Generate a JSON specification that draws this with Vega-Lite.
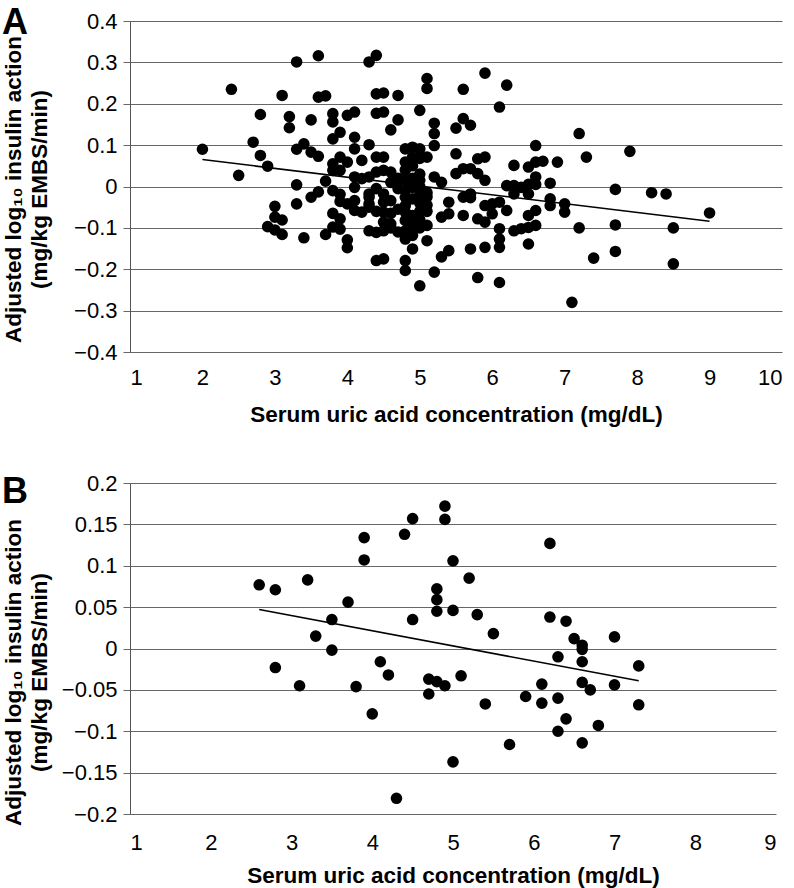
{
  "$schema": "https://vega.github.io/schema/vega-lite/v6.json",
  "autosize": {"type": "none"},
  "padding": {"left": 130, "top": 21, "right": 664, "bottom": 867},
  "background": "white",
  "bounds": "flush",
  "spacing": 131,
  "config": {
    "view": {"stroke": null},
    "font": "Liberation Sans",
    "axis": {"labelFont": "Liberation Sans", "titleFont": "Liberation Sans", "labelColor": "#000", "titleColor": "#000", "labelFontSize": 22, "titleFontSize": 22.5, "titleFontWeight": "bold"},
    "title": {"font": "Liberation Sans", "color": "#000"}
  },
  "datasets": {
    "a": [
      {"x":2.0,"y":0.090},{"x":2.4,"y":0.235},{"x":2.5,"y":0.027},{"x":2.7,"y":0.107},{"x":2.8,"y":0.174},{"x":2.8,"y":0.075},{"x":2.9,"y":0.049},
      {"x":3.1,"y":0.220},{"x":3.3,"y":0.301},{"x":3.6,"y":0.316},{"x":3.2,"y":0.169},{"x":3.2,"y":0.142},{"x":3.5,"y":0.161},{"x":3.6,"y":0.216},{"x":3.7,"y":0.219},
      {"x":3.3,"y":0.090},{"x":3.4,"y":0.103},{"x":3.5,"y":0.083},{"x":3.6,"y":0.073},
      {"x":3.3,"y":0.004},{"x":3.3,"y":-0.042},{"x":3.5,"y":-0.026},{"x":3.6,"y":-0.013},{"x":3.7,"y":0.013},
      {"x":3.0,"y":-0.048},{"x":3.0,"y":-0.074},{"x":3.1,"y":-0.081},{"x":2.9,"y":-0.097},{"x":3.0,"y":-0.105},{"x":3.1,"y":-0.116},{"x":3.4,"y":-0.124},{"x":3.7,"y":-0.116},
      {"x":3.8,"y":-0.065},{"x":3.9,"y":-0.078},{"x":3.8,"y":-0.098},{"x":3.9,"y":-0.103},{"x":4.0,"y":-0.129},{"x":4.0,"y":-0.148},
      {"x":3.8,"y":-0.010},{"x":3.9,"y":-0.019},{"x":3.9,"y":-0.036},{"x":4.0,"y":-0.042},{"x":4.1,"y":-0.034},{"x":4.1,"y":-0.058},{"x":4.2,"y":-0.062},{"x":4.3,"y":-0.050},{"x":4.3,"y":-0.026},
      {"x":3.8,"y":0.176},{"x":3.8,"y":0.156},{"x":3.9,"y":0.131},{"x":4.0,"y":0.172},{"x":4.1,"y":0.180},{"x":3.8,"y":0.115},{"x":4.1,"y":0.119},{"x":4.1,"y":0.091},{"x":4.3,"y":0.101},{"x":4.2,"y":0.063},
      {"x":3.8,"y":0.055},{"x":3.9,"y":0.071},{"x":4.0,"y":0.059},{"x":3.8,"y":0.039},{"x":3.9,"y":0.039},
      {"x":4.1,"y":0.023},{"x":4.1,"y":-0.002},{"x":4.2,"y":0.019},{"x":4.3,"y":0.023},{"x":4.4,"y":0.035},
      {"x":4.3,"y":-0.018},{"x":4.3,"y":-0.042},{"x":4.3,"y":-0.107},{"x":4.4,"y":-0.111},{"x":4.4,"y":-0.179},
      {"x":4.3,"y":0.301},{"x":4.4,"y":0.317},{"x":4.4,"y":0.224},{"x":4.4,"y":0.177},{"x":4.4,"y":0.071},{"x":4.5,"y":-0.175},
      {"x":4.5,"y":0.226},{"x":4.7,"y":0.220},{"x":4.5,"y":0.180},{"x":4.7,"y":0.161},{"x":4.6,"y":0.137},{"x":5.1,"y":0.261},{"x":5.1,"y":0.237},{"x":5.0,"y":0.184},
      {"x":5.6,"y":0.235},{"x":5.9,"y":0.274},{"x":6.2,"y":0.245},{"x":6.1,"y":0.192},{"x":5.2,"y":0.153},{"x":5.2,"y":0.128},{"x":5.2,"y":0.099},{"x":5.5,"y":0.141},{"x":5.6,"y":0.164},{"x":5.7,"y":0.148},
      {"x":4.8,"y":0.091},{"x":4.9,"y":0.095},{"x":5.0,"y":0.091},{"x":4.8,"y":0.059},{"x":4.9,"y":0.071},{"x":5.0,"y":0.068},{"x":5.1,"y":0.071},{"x":4.8,"y":0.040},{"x":5.0,"y":0.030},{"x":4.9,"y":0.050},
      {"x":4.5,"y":0.071},{"x":4.5,"y":0.039},{"x":4.6,"y":0.035},
      {"x":5.5,"y":0.079},{"x":5.8,"y":0.067},{"x":5.9,"y":0.071},{"x":5.5,"y":0.031},{"x":5.6,"y":0.043},{"x":5.7,"y":0.043},{"x":5.8,"y":0.031},{"x":5.9,"y":0.015},
      {"x":5.2,"y":0.023},{"x":5.3,"y":0.010},
      {"x":6.6,"y":0.099},{"x":6.3,"y":0.051},{"x":6.5,"y":0.047},{"x":6.6,"y":0.059},{"x":6.7,"y":0.061},{"x":6.9,"y":0.059},
      {"x":6.2,"y":0.002},{"x":6.3,"y":0.002},{"x":6.6,"y":0.023},{"x":6.6,"y":0.005},{"x":6.8,"y":0.008},{"x":6.5,"y":-0.018},{"x":6.8,"y":-0.030},{"x":6.8,"y":-0.046},{"x":7.0,"y":-0.042},{"x":7.0,"y":-0.062},{"x":6.3,"y":-0.018},
      {"x":6.1,"y":-0.038},{"x":6.2,"y":-0.058},{"x":6.5,"y":-0.070},{"x":6.6,"y":-0.058},
      {"x":6.3,"y":-0.107},{"x":6.4,"y":-0.102},{"x":6.5,"y":-0.099},{"x":6.6,"y":-0.094},{"x":6.5,"y":-0.139},
      {"x":6.1,"y":-0.102},{"x":6.1,"y":-0.127},{"x":6.1,"y":-0.147},{"x":5.9,"y":-0.147},{"x":5.7,"y":-0.151},
      {"x":5.9,"y":-0.046},{"x":5.8,"y":-0.078},{"x":5.9,"y":-0.086},{"x":6.0,"y":-0.066},
      {"x":5.6,"y":-0.026},{"x":5.7,"y":-0.018},{"x":5.6,"y":-0.070},{"x":5.4,"y":-0.038},{"x":5.4,"y":-0.066},{"x":5.3,"y":-0.074},
      {"x":5.4,"y":-0.155},{"x":5.3,"y":-0.170},{"x":5.2,"y":-0.207},{"x":5.0,"y":-0.240},{"x":5.8,"y":-0.220},{"x":6.1,"y":-0.232},{"x":7.1,"y":-0.280},
      {"x":4.9,"y":-0.151},{"x":4.8,"y":-0.179},{"x":4.8,"y":-0.203},{"x":5.1,"y":-0.094},{"x":5.1,"y":-0.131},
      {"x":4.5,"y":-0.018},{"x":4.5,"y":-0.038},{"x":4.5,"y":-0.062},{"x":4.5,"y":-0.086},{"x":4.5,"y":-0.107},
      {"x":4.6,"y":-0.034},{"x":4.6,"y":-0.090},{"x":4.6,"y":-0.100},{"x":4.7,"y":-0.005},{"x":4.7,"y":-0.055},{"x":4.7,"y":-0.110},
      {"x":4.8,"y":0.015},{"x":4.8,"y":-0.010},{"x":4.8,"y":-0.026},{"x":4.8,"y":-0.046},{"x":4.8,"y":-0.062},{"x":4.8,"y":-0.082},{"x":4.8,"y":-0.107},{"x":4.8,"y":-0.127},
      {"x":4.9,"y":-0.002},{"x":4.9,"y":-0.030},{"x":4.9,"y":-0.070},{"x":4.9,"y":-0.095},{"x":4.9,"y":-0.118},
      {"x":5.0,"y":0.000},{"x":5.0,"y":-0.020},{"x":5.0,"y":-0.040},{"x":5.0,"y":-0.060},{"x":5.0,"y":-0.080},{"x":5.0,"y":-0.100},
      {"x":5.1,"y":-0.015},{"x":5.1,"y":-0.025},{"x":5.1,"y":-0.045},{"x":5.1,"y":-0.060},
      {"x":4.6,"y":0.010},{"x":4.7,"y":0.020},{"x":4.9,"y":0.020},{"x":5.0,"y":0.015},{"x":4.4,"y":-0.005},{"x":4.4,"y":-0.060},{"x":4.6,"y":-0.065},
      {"x":6.4,"y":-0.002},{"x":6.5,"y":0.005},
      {"x":7.2,"y":0.128},{"x":7.3,"y":0.071},{"x":7.9,"y":0.085},{"x":7.7,"y":-0.007},{"x":8.2,"y":-0.015},{"x":8.4,"y":-0.018},{"x":9.0,"y":-0.064},
      {"x":7.2,"y":-0.100},{"x":7.7,"y":-0.093},{"x":8.5,"y":-0.100},{"x":7.4,"y":-0.173},{"x":7.7,"y":-0.157},{"x":8.5,"y":-0.187},
      {"x":5.7,"y":-0.027},{"x":6.0,"y":-0.042}
    ],
    "la": [{"x":2.0,"y":0.065},{"x":9.0,"y":-0.084}],
    "b": [
      {"x":2.6,"y":0.077},{"x":2.8,"y":0.071},{"x":2.8,"y":-0.023},{"x":3.1,"y":-0.045},{"x":3.2,"y":0.083},{"x":3.3,"y":0.015},{"x":3.5,"y":0.035},{"x":3.5,"y":-0.002},
      {"x":3.7,"y":0.056},{"x":3.8,"y":-0.046},{"x":3.9,"y":0.134},{"x":3.9,"y":0.107},{"x":4.0,"y":-0.079},{"x":4.1,"y":-0.016},{"x":4.2,"y":-0.032},{"x":4.3,"y":-0.181},
      {"x":4.4,"y":0.138},{"x":4.5,"y":0.157},{"x":4.5,"y":0.035},{"x":4.7,"y":-0.037},{"x":4.7,"y":-0.055},{"x":4.8,"y":0.072},{"x":4.8,"y":0.059},{"x":4.8,"y":0.045},
      {"x":4.8,"y":-0.040},{"x":4.9,"y":0.172},{"x":4.9,"y":0.156},{"x":4.9,"y":-0.045},{"x":5.0,"y":0.106},{"x":5.0,"y":0.046},{"x":5.0,"y":-0.137},{"x":5.1,"y":-0.033},
      {"x":5.2,"y":0.085},{"x":5.3,"y":0.041},{"x":5.4,"y":-0.067},{"x":5.5,"y":0.018},{"x":5.7,"y":-0.116},{"x":5.9,"y":-0.058},{"x":6.1,"y":-0.043},{"x":6.1,"y":-0.066},
      {"x":6.2,"y":0.127},{"x":6.2,"y":0.038},{"x":6.3,"y":-0.010},{"x":6.3,"y":-0.060},{"x":6.3,"y":-0.100},{"x":6.4,"y":0.033},{"x":6.4,"y":-0.085},{"x":6.5,"y":0.012},
      {"x":6.6,"y":0.004},{"x":6.6,"y":-0.001},{"x":6.6,"y":-0.016},{"x":6.6,"y":-0.041},{"x":6.6,"y":-0.114},{"x":6.7,"y":-0.050},{"x":6.8,"y":-0.093},{"x":7.0,"y":0.014},
      {"x":7.0,"y":-0.044},{"x":7.3,"y":-0.021},{"x":7.3,"y":-0.068}
    ],
    "lb": [{"x":2.6,"y":0.047},{"x":7.3,"y":-0.039}]
  },
  "vconcat": [
    {
      "width": 652,
      "height": 331,
      "title": {"text": "A", "anchor": "start", "frame": "group", "orient": "top", "dx": -128, "dy": 60, "offset": 0, "baseline": "alphabetic", "fontSize": 36, "fontWeight": "bold"},
      "layer": [
        {
          "data": {"name": "a"},
          "mark": {"type": "circle", "size": 135, "color": "#000", "opacity": 1},
          "encoding": {
            "x": {"field": "x", "type": "quantitative", "scale": {"domain": [1, 10], "nice": false, "zero": false},
              "axis": {"title": "Serum uric acid concentration (mg/dL)", "values": [1,2,3,4,5,6,7,8,9,10], "format": "~g", "grid": false, "domain": false, "ticks": false, "tickSize": 0, "labelPadding": 15, "titleY": 51, "titleBaseline": "top"}},
            "y": {"field": "y", "type": "quantitative", "scale": {"domain": [-0.4, 0.4], "nice": false, "zero": false},
              "axis": {"title": ["Adjusted log₁₀ insulin action", "(mg/kg EMBS/min)"], "values": [-0.4,-0.3,-0.2,-0.1,0,0.1,0.2,0.3,0.4], "format": "~g", "grid": true, "gridColor": "#666", "gridWidth": 1, "gridOpacity": 1, "domain": true, "domainColor": "#555", "domainWidth": 1, "ticks": true, "tickColor": "#666", "tickSize": 7, "labelPadding": 6, "titleAngle": -90, "titleX": -110, "titleY": 168, "titleAlign": "center", "titleBaseline": "alphabetic", "titleLineHeight": 26}}
          }
        },
        {
          "data": {"name": "la"},
          "mark": {"type": "line", "color": "#000", "strokeWidth": 1.5},
          "encoding": {"x": {"field": "x", "type": "quantitative"}, "y": {"field": "y", "type": "quantitative"}}
        }
      ]
    },
    {
      "width": 646,
      "height": 331,
      "title": {"text": "B", "anchor": "start", "frame": "group", "orient": "top", "dx": -128, "dy": 67, "offset": 0, "baseline": "alphabetic", "fontSize": 36, "fontWeight": "bold"},
      "layer": [
        {
          "data": {"name": "b"},
          "mark": {"type": "circle", "size": 135, "color": "#000", "opacity": 1},
          "encoding": {
            "x": {"field": "x", "type": "quantitative", "scale": {"domain": [1, 9], "nice": false, "zero": false},
              "axis": {"title": "Serum uric acid concentration (mg/dL)", "values": [1,2,3,4,5,6,7,8,9], "format": "~g", "grid": false, "domain": false, "ticks": false, "tickSize": 0, "labelPadding": 18, "titleY": 50, "titleBaseline": "top"}},
            "y": {"field": "y", "type": "quantitative", "scale": {"domain": [-0.2, 0.2], "nice": false, "zero": false},
              "axis": {"title": ["Adjusted log₁₀ insulin action", "(mg/kg EMBS/min)"], "values": [-0.2,-0.15,-0.1,-0.05,0,0.05,0.1,0.15,0.2], "format": "~g", "grid": true, "gridColor": "#666", "gridWidth": 1, "gridOpacity": 1, "domain": true, "domainColor": "#555", "domainWidth": 1, "ticks": true, "tickColor": "#666", "tickSize": 7, "labelPadding": 6, "titleAngle": -90, "titleX": -110, "titleY": 189, "titleAlign": "center", "titleBaseline": "alphabetic", "titleLineHeight": 26}}
          }
        },
        {
          "data": {"name": "lb"},
          "mark": {"type": "line", "color": "#000", "strokeWidth": 1.5},
          "encoding": {"x": {"field": "x", "type": "quantitative"}, "y": {"field": "y", "type": "quantitative"}}
        }
      ]
    }
  ]
}
